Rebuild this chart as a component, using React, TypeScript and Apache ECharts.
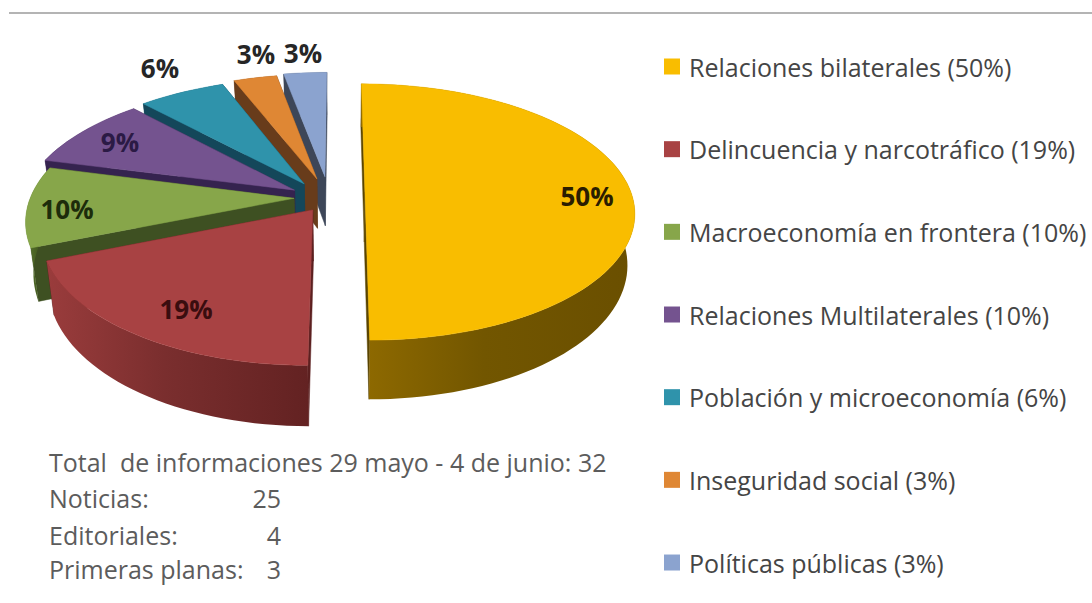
import React, { useEffect, useRef } from "react";
import * as echarts from "echarts";

const categories = [
  "Relaciones bilaterales (50%)",
  "Delincuencia y narcotráfico (19%)",
  "Macroeconomía en frontera (10%)",
  "Relaciones Multilaterales (10%)",
  "Población y microeconomía (6%)",
  "Inseguridad social (3%)",
  "Políticas públicas (3%)",
];
const values = [50, 19, 10, 9, 6, 3, 3];
const valueLabels = ["50%", "19%", "10%", "9%", "6%", "3%", "3%"];
const summaryLabels = ["Total  de informaciones 29 mayo - 4 de junio: 32", "Noticias:", "Editoriales:", "Primeras planas:"];
const summaryCounts = ["", "25", "4", "3"];

// style
const topColors = ["#f9bd00", "#a84243", "#87a64a", "#74538f", "#2f93ab", "#df8734", "#8ba3cf"];
const wallColors = ["#5a4500", "#5c2020", "#3e5022", "#35234f", "#14475a", "#683c1b", "#3d4658"];
const sideStops = [
  ["#8f6a00", "#725600", "#6a4f00"],
  ["#9a3c3c", "#7a2e2e", "#632222"],
  ["#5c7a30", "#42581f", "#3e5022"],
  ["#35234f", "#35234f", "#35234f"],
  ["#14475a", "#14475a", "#14475a"],
  ["#683c1b", "#683c1b", "#683c1b"],
  ["#3d4658", "#3d4658", "#3d4658"],
];
const labelColors = ["#2b1d00", "#3a0d0f", "#1d2c0b", "#2b1a45", "#262626", "#262626", "#262626"];
const labelPos = [[587, 196], [186, 309], [67, 209], [120, 142], [160, 68], [256, 54], [303, 53]];
const explode = [[0.096, 0], [-0.095, 0.14], [-0.165, 0.05], [-0.165, -0.015], [-0.13, -0.065], [-0.083, -0.105], [-0.053, -0.125]];
const radiusScale = [0.985, 0.97, 0.97, 1, 1, 1, 1];
const sliceZ = [20, 19, 18, 17, 16, 15, 14];

const CX = 339, CY = 192, R = 270, H = 125, K = 0.156, DEPTH = 50, NARROW = 0.975;
const FONT = "'Open Sans'";
const total = values.reduce((a, b) => a + b, 0);

function project(u: number, v: number, bottom: boolean): number[] {
  const s = 1 / (1 - K * v);
  const x = R * u * s;
  const y = CY + H * v * s;
  return bottom ? [CX + x * NARROW, y + DEPTH * s] : [CX + x, y];
}

function makeRenderItem(i: number) {
  return (_params: any, api: any) => {
    const startVal = values.slice(0, i).reduce((a, b) => a + b, 0);
    const a0 = (startVal / total) * Math.PI * 2;
    const a1 = ((startVal + api.value(0)) / total) * Math.PI * 2;
    const [du, dv] = explode[i];
    const rs = radiusScale[i];
    const steps = Math.max(4, Math.round((a1 - a0) / (Math.PI / 90)));
    const topRim: number[][] = [];
    const botRim: number[][] = [];
    for (let k = 0; k <= steps; k++) {
      const a = a0 + ((a1 - a0) * k) / steps;
      const u = du + rs * Math.sin(a);
      const v = dv - Math.cos(a);
      topRim.push(project(u, v, false));
      botRim.push(project(u, v, true));
    }
    const apexTop = project(du, dv, false);
    const apexBot = project(du, dv, true);
    const wall = (idx: number) => ({
      type: "polygon",
      shape: { points: [apexTop, topRim[idx], botRim[idx], apexBot] },
      style: { fill: wallColors[i], stroke: wallColors[i], lineWidth: 0.5 },
    });
    const stops = sideStops[i];
    return {
      type: "group",
      children: [
        wall(steps),
        wall(0),
        {
          type: "polygon",
          shape: { points: [...topRim, ...botRim.slice().reverse()] },
          style: {
            fill: new echarts.graphic.LinearGradient(0, 0, 1, 0, [
              { offset: 0, color: stops[0] },
              { offset: 0.45, color: stops[1] },
              { offset: 1, color: stops[2] },
            ]),
          },
        },
        {
          type: "polygon",
          shape: { points: [apexTop, ...topRim] },
          style: { fill: topColors[i], stroke: topColors[i], lineWidth: 0.5 },
        },
      ],
    };
  };
}

export default function App() {
  const ref = useRef<HTMLDivElement>(null);
  useEffect(() => {
    const chart = echarts.init(ref.current!, undefined, { renderer: "svg" });
    const series = categories.map((name, i) => ({
      type: "custom",
      name,
      coordinateSystem: "none",
      silent: true,
      z: sliceZ[i],
      itemStyle: { color: topColors[i] },
      data: [values[i]],
      renderItem: makeRenderItem(i),
    }));
    const rowY = [462, 498, 535, 569];
    const graphic: any[] = [
      { type: "rect", x: 9, y: 12, shape: { width: 1083, height: 2 }, style: { fill: "#b4b4b4" } },
      ...valueLabels.map((t, i) => ({
        type: "text",
        x: labelPos[i][0],
        y: labelPos[i][1],
        z: 100,
        style: {
          text: t,
          fill: labelColors[i],
          font: `bold 26px ${FONT}`,
          textAlign: "center",
          textVerticalAlign: "middle",
        },
      })),
      ...summaryLabels.map((t, i) => ({
        type: "text",
        x: 49,
        y: rowY[i],
        style: { text: t, fill: "#5c5c5c", font: `25px ${FONT}`, textVerticalAlign: "middle" },
      })),
      ...summaryCounts.map((t, i) => ({
        type: "text",
        x: 281,
        y: rowY[i],
        style: { text: t, fill: "#5c5c5c", font: `25px ${FONT}`, textAlign: "right", textVerticalAlign: "middle" },
      })),
    ];
    chart.setOption({
      animation: false,
      backgroundColor: "#ffffff",
      legend: {
        orient: "vertical",
        left: 659,
        top: 49,
        itemWidth: 16,
        itemHeight: 16,
        itemGap: 57.67,
        icon: "rect",
        selectedMode: false,
        itemStyle: { borderWidth: 0 },
        textStyle: { fontFamily: FONT, fontSize: 25, color: "#454545", padding: [0, 0, 0, 4] },
        data: categories,
      },
      graphic,
      series,
    });
    return () => chart.dispose();
  }, []);
  return <div ref={ref} style={{ position: "fixed", left: 0, top: 0, width: 1092, height: 603 }} />;
}
